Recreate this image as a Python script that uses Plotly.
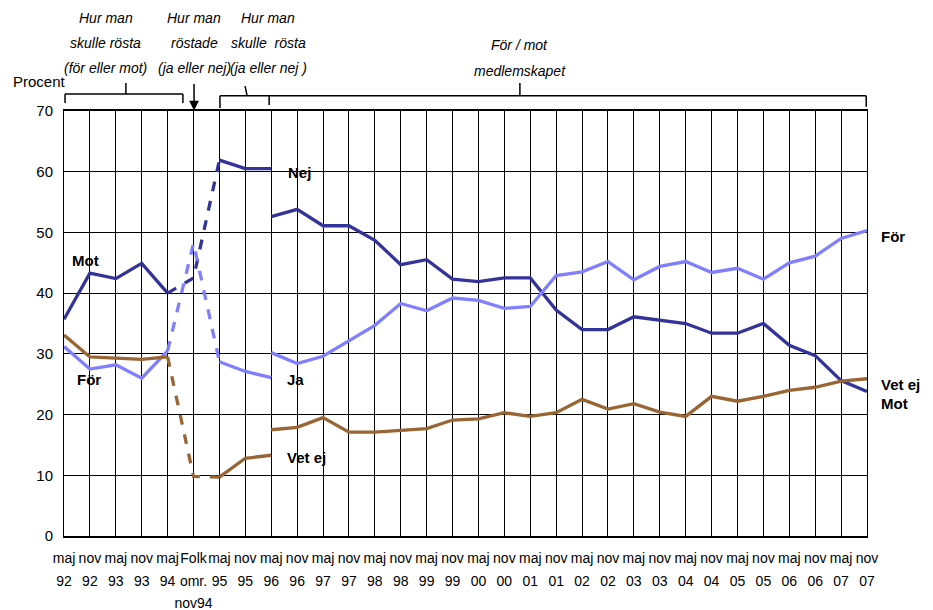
import plotly.graph_objects as go

# ---------------------------------------------------------------------
# data
# ---------------------------------------------------------------------

months = ["maj", "nov", "maj", "nov", "maj", "Folk"] + ["maj", "nov"] * 13
years = ["92", "92", "93", "93", "94", "omr.",
         "95", "95", "96", "96", "97", "97", "98", "98", "99", "99",
         "00", "00", "01", "01", "02", "02", "03", "03", "04", "04",
         "05", "05", "06", "06", "07", "07"]

# maj 92 - maj 94: hur man skulle rösta (för eller mot)
mot_92_94 = [35.7, 43.3, 42.4, 44.9, 40.0]
for_92_94 = [31.2, 27.5, 28.2, 26.0, 30.5]
vetej_92_94 = [33.1, 29.5, 29.3, 29.1, 29.5]

# folkomröstningen nov 94
nej_folk = 42.5
ja_folk = 48.2
vetej_folk = 9.8

# maj 95 - maj 96: hur man skulle rösta (ja eller nej)
nej_95_96 = [61.9, 60.5, 60.5]
ja_95_96 = [28.7, 27.1, 26.1]
vetej_95_96 = [9.7, 12.8, 13.3]

# maj 96 - nov 07: för / mot medlemskapet
mot_96_07 = [52.6, 53.8, 51.1, 51.1, 48.7, 44.7, 45.5, 42.3, 41.9, 42.5, 42.5, 37.2,
             34.0, 34.0, 36.1, 35.5, 35.0, 33.4, 33.4, 35.0, 31.4, 29.7, 25.6, 23.8]
for_96_07 = [30.2, 28.4, 29.6, 32.1, 34.7, 38.3, 37.1, 39.2, 38.8, 37.5, 37.8, 42.9,
             43.5, 45.2, 42.2, 44.4, 45.2, 43.4, 44.1, 42.3, 45.0, 46.1, 49.0, 50.3]
vetej_96_07 = [17.5, 17.9, 19.5, 17.1, 17.1, 17.4, 17.7, 19.1, 19.3, 20.3, 19.7, 20.3,
               22.5, 20.9, 21.8, 20.4, 19.7, 23.0, 22.2, 23.0, 24.0, 24.5, 25.5, 25.9]

# ---------------------------------------------------------------------
# figure
# ---------------------------------------------------------------------

FONT = "Liberation Sans, Arial, sans-serif"
DARK = "#333399"
LIGHT = "#8080FF"
BROWN = "#996633"
X_MAX = 31
Y_MAX = 70

idx = list(range(len(months)))
x_a = idx[0:5]
x_b = idx[4:7]
x_c = idx[6:9]
x_d = idx[8:]


def px(i):
    # category index -> paper x
    return i / X_MAX


def py(v):
    # percent -> paper y (may lie above the plot)
    return v / Y_MAX


fig = go.Figure()

series = [
    (DARK, mot_92_94, nej_folk, nej_95_96, mot_96_07),
    (LIGHT, for_92_94, ja_folk, ja_95_96, for_96_07),
    (BROWN, vetej_92_94, vetej_folk, vetej_95_96, vetej_96_07),
]
for color, early, folk, mid, late in series:
    fig.add_trace(go.Scatter(x=x_a, y=early, mode="lines",
                             line=dict(color=color, width=3.3)))
    fig.add_trace(go.Scatter(x=x_b, y=[early[-1], folk, mid[0]], mode="lines",
                             line=dict(color=color, width=3.3, dash="dash")))
    fig.add_trace(go.Scatter(x=x_c, y=mid, mode="lines",
                             line=dict(color=color, width=3.3)))
    fig.add_trace(go.Scatter(x=x_d, y=late, mode="lines",
                             line=dict(color=color, width=3.3)))

# dummy traces so the extra label axes get drawn
fig.add_trace(go.Scatter(x=[None], y=[None], xaxis="x2", hoverinfo="skip"))
fig.add_trace(go.Scatter(x=[None], y=[None], xaxis="x3", hoverinfo="skip"))

# series labels
labels = [
    ("Mot", 0.23, 45.3),
    ("För", 0.42, 25.7),
    ("Nej", 8.57, 59.8),
    ("Ja", 8.53, 25.7),
    ("Vet ej", 8.53, 12.85),
    ("För", 31.47, 49.4),
    ("Vet ej", 31.47, 24.9),
    ("Mot", 31.47, 21.9),
]
for text, x, y in labels:
    fig.add_annotation(x=px(x), y=py(y), xref="paper", yref="paper", text=text,
                       showarrow=False, xanchor="left", yanchor="middle",
                       font=dict(size=15, color="black", family=FONT, weight="bold"))

# period headers
headers = [
    (1.62, ["Hur man", "skulle rösta", "(för eller mot)"], [85.3, 81.2, 77.1]),
    (5.02, ["Hur man", "röstade", "(ja eller nej)"], [85.3, 81.2, 77.1]),
    (7.88, ["Hur man", "skulle  rösta", "(ja eller nej )"], [85.3, 81.2, 77.1]),
    (17.6, ["För / mot", "medlemskapet"], [80.9, 76.6]),
]
for x, lines, ys in headers:
    for text, y in zip(lines, ys):
        fig.add_annotation(x=px(x), y=py(y), xref="paper", yref="paper",
                           text=text, showarrow=False,
                           xanchor="center", yanchor="middle",
                           font=dict(size=14, color="black", family=FONT, style="italic"))

fig.add_annotation(x=px(-0.93), y=py(74.8), xref="paper", yref="paper",
                   text="Procent", showarrow=False,
                   xanchor="center", yanchor="middle",
                   font=dict(size=15, color="black", family=FONT))

# arrow to the referendum
fig.add_annotation(x=px(5.02), y=py(70.1), xref="paper", yref="paper",
                   ax=0, ay=-28, text="", showarrow=True, arrowhead=2,
                   arrowsize=1.3, arrowwidth=1.5, arrowcolor="black")

# brackets
bracket_lines = [
    (0.04, 72.8, 4.59, 72.8),
    (0.04, 72.8, 0.04, 71.3),
    (4.59, 72.8, 4.59, 71.3),
    (2.39, 72.8, 2.39, 74.6),
    (6.02, 72.5, 30.97, 72.5),
    (6.02, 72.5, 6.02, 70.5),
    (7.07, 72.5, 6.99, 74.1),
    (7.92, 72.5, 7.92, 71.0),
    (17.6, 72.5, 17.6, 74.6),
    (30.97, 72.5, 30.97, 70.7),
]
for x0, y0, x1, y1 in bracket_lines:
    fig.add_shape(type="line", x0=px(x0), y0=py(y0), x1=px(x1), y1=py(y1),
                  xref="paper", yref="paper",
                  line=dict(color="black", width=1.5))

tick_font = dict(size=14, color="black", family=FONT)
fig.update_layout(
    width=925, height=602,
    margin=dict(l=56, r=66, t=103, b=74),
    paper_bgcolor="white", plot_bgcolor="white",
    showlegend=False,
    font=dict(family=FONT, color="black"),
    xaxis=dict(range=[0, X_MAX], tickvals=idx, ticktext=months, tickangle=0,
               showgrid=True, gridcolor="black", gridwidth=1,
               showline=True, linecolor="black", linewidth=1.5, mirror=True,
               zeroline=False, ticks="", ticklabelstandoff=8,
               tickfont=tick_font, automargin=False),
    xaxis2=dict(range=[0, X_MAX], overlaying="x", anchor="y", side="bottom",
                tickvals=idx, ticktext=years, tickangle=0,
                showgrid=False, showline=False, zeroline=False, ticks="",
                ticklabelstandoff=35, tickfont=tick_font, automargin=False),
    xaxis3=dict(range=[0, X_MAX], overlaying="x", anchor="y", side="bottom",
                tickvals=[5], ticktext=["nov94"], tickangle=0,
                showgrid=False, showline=False, zeroline=False, ticks="",
                ticklabelstandoff=57, tickfont=tick_font, automargin=False),
    yaxis=dict(range=[0, Y_MAX], dtick=10, showgrid=True, gridcolor="black",
               gridwidth=1, showline=True, linecolor="black", linewidth=1,
               mirror=True, zeroline=False, ticks="", ticklabelstandoff=7,
               tickfont=dict(size=15, color="black", family=FONT),
               automargin=False),
)

fig.write_html("out.html")
